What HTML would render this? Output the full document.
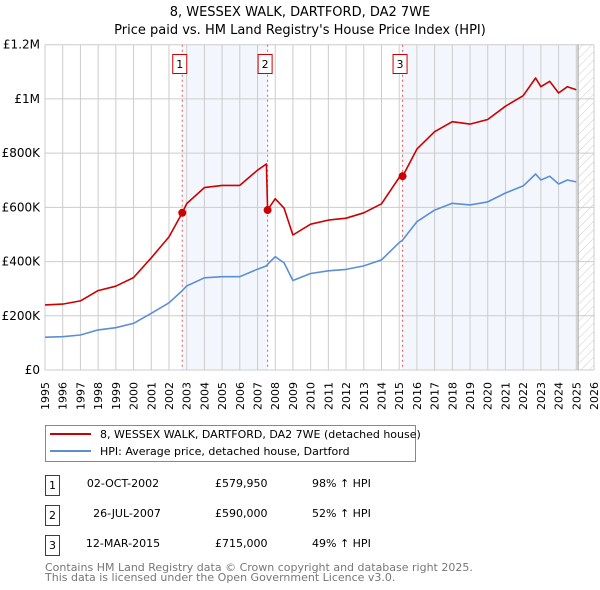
<!DOCTYPE html>
<html><head><meta charset="utf-8">
<style>
body{margin:0;background:#fff;font-family:"DejaVu Sans","Liberation Sans",sans-serif;}
svg{display:block}
</style></head>
<body>
<svg id="chart" width="600" height="590" xmlns="http://www.w3.org/2000/svg" font-family="DejaVu Sans, Liberation Sans, sans-serif">
<defs>
<pattern id="hatch" width="6" height="6" patternUnits="userSpaceOnUse" patternTransform="rotate(45)">
<line x1="0" y1="0" x2="0" y2="6" stroke="#ccc" stroke-width="1"/>
</pattern>
</defs>
<text x="300" y="16" text-anchor="middle" font-size="13">8, WESSEX WALK, DARTFORD, DA2 7WE</text>
<text x="300" y="34" text-anchor="middle" font-size="13">Price paid vs. HM Land Registry's House Price Index (HPI)</text>
<g id="plot"></g>
<g id="legend">
<rect x="45.5" y="425.5" width="370" height="36" fill="#fff" stroke="#888"/>
<line x1="50" y1="434" x2="91" y2="434" stroke="#cc0000" stroke-width="2"/>
<text x="100" y="438" font-size="11">8, WESSEX WALK, DARTFORD, DA2 7WE (detached house)</text>
<line x1="50" y1="451" x2="91" y2="451" stroke="#5b8fd4" stroke-width="2"/>
<text x="100" y="455" font-size="11">HPI: Average price, detached house, Dartford</text>
</g>
<g id="table" font-size="11">
<rect x="45.5" y="475.5" width="14" height="20" fill="#fff" stroke="#cc0000"/><text x="52.5" y="489" text-anchor="middle">1</text>
<text x="123" y="487" text-anchor="middle">02-OCT-2002</text><text x="215" y="487">£579,950</text><text x="312" y="487">98% ↑ HPI</text>
<rect x="45.5" y="505.5" width="14" height="20" fill="#fff" stroke="#cc0000"/><text x="52.5" y="519" text-anchor="middle">2</text>
<text x="127" y="517" text-anchor="middle">26-JUL-2007</text><text x="215" y="517">£590,000</text><text x="312" y="517">52% ↑ HPI</text>
<rect x="45.5" y="535.5" width="14" height="20" fill="#fff" stroke="#cc0000"/><text x="52.5" y="549" text-anchor="middle">3</text>
<text x="123" y="547" text-anchor="middle">12-MAR-2015</text><text x="215" y="547">£715,000</text><text x="312" y="547">49% ↑ HPI</text>
</g>
<text x="45" y="571" font-size="11" fill="#777">Contains HM Land Registry data © Crown copyright and database right 2025.</text>
<text x="45" y="581" font-size="11" fill="#777">This data is licensed under the Open Government Licence v3.0.</text>
</svg>
<script>
const dates=[1995,1996,1997,1998,1999,2000,2001,2002,2002.75,2003,2004,2005,2006,2007,2007.5,2007.57,2008,2008.5,2009,2010,2011,2012,2013,2014,2015,2015.2,2016,2017,2018,2019,2020,2021,2022,2022.7,2023,2023.5,2024,2024.5,2025];
const hpiValues=[121,123,129,148,156,172,209,248,293,310,340,344,344,372,384,390,418,395,330,356,366,371,384,406,470,480,547,590,615,609,620,653,679,723,701,715,686,701,694];
const priceValues=[240,243,255,293,309,341,414,491,580,614,673,681,681,737,760,590,632,597,498,538,553,560,580,613,710,715,815,879,916,907,924,973,1012,1077,1045,1065,1022,1045,1034];
const saleDates=[2002.75,2007.57,2015.19];
const salePrices=[579.95,590,715];
const saleLabels=["1","2","3"];
const yTicks=[0,200,400,600,800,1000,1200];
const yTickLabels=["£0","£200K","£400K","£600K","£800K","£1M","£1.2M"];
const xTicks=[];for(let y=1995;y<=2026;y++)xTicks.push(y);

const X0=45,X1=594,Y0=370,Y1=44.7;
const xs=v=>X0+(v-1995)/(2026-1995)*(X1-X0);
const ys=v=>Y0-v/1200*(Y0-Y1);
const NS="http://www.w3.org/2000/svg";
const plot=document.getElementById('plot');
function mk(tag,attrs,parent){const e=document.createElementNS(NS,tag);for(const k in attrs)e.setAttribute(k,attrs[k]);(parent||plot).appendChild(e);return e;}

let s=mk('rect',{x:xs(saleDates[0]),y:Y1,width:xs(saleDates[1])-xs(saleDates[0]),height:Y0-Y1,fill:'#eef3fc',opacity:0.7});


s=mk('rect',{x:xs(saleDates[2]),y:Y1,width:xs(2025.1)-xs(saleDates[2]),height:Y0-Y1,fill:'#eef3fc',opacity:0.7});


s=mk('rect',{x:xs(2025.1),y:Y1,width:X1-xs(2025.1),height:Y0-Y1,fill:'url(#hatch)'});



xTicks.forEach(t=>{const l=mk('line',{x1:xs(t),x2:xs(t),y1:Y1,y2:Y0,stroke:'#ccc','stroke-width':1});


const tx=mk('text',{x:0,y:0,'font-size':11,'text-anchor':'end',transform:`translate(${xs(t)+4},${Y0+12}) rotate(-90)`});
tx.textContent=t;

});
yTicks.forEach((t,i)=>{const l=mk('line',{x1:X0,x2:X1,y1:ys(t),y2:ys(t),stroke:'#ccc','stroke-width':1});


const tx=mk('text',{x:40,y:ys(t)+4,'font-size':12,'text-anchor':'end'});
tx.textContent=yTickLabels[i];

});
let ln=mk('line',{x1:xs(2025.1),x2:xs(2025.1),y1:Y1,y2:Y0,stroke:'#999','stroke-width':1});



saleDates.forEach((d,i)=>{const l=mk('line',{x1:xs(d),x2:xs(d),y1:Y1,y2:Y0,stroke:'#e55','stroke-width':1,'stroke-dasharray':'2,3'});


const r=mk('rect',{x:xs(d)-9.5,y:54.5,width:14,height:19,fill:'#fff',stroke:'#cc0000'});


const t=mk('text',{x:xs(d)-2.5,y:68,'font-size':11,'text-anchor':'middle'});t.textContent=saleLabels[i];

});

function path(vals,color,name){const d=vals.map((v,i)=>(i?'L':'M')+xs(dates[i]).toFixed(1)+','+ys(v).toFixed(1)).join('');
const p=mk('path',{d:d,fill:'none',stroke:color,'stroke-width':1.6,'stroke-linejoin':'round'});

}
path(hpiValues,'#5b8fd4','hpi-line');
path(priceValues,'#cc0000','price-line');
saleDates.forEach((d,i)=>{const c=mk('circle',{cx:xs(d),cy:ys(salePrices[i]),r:4,fill:'#cc0000'});

});
</script>
</body></html>
